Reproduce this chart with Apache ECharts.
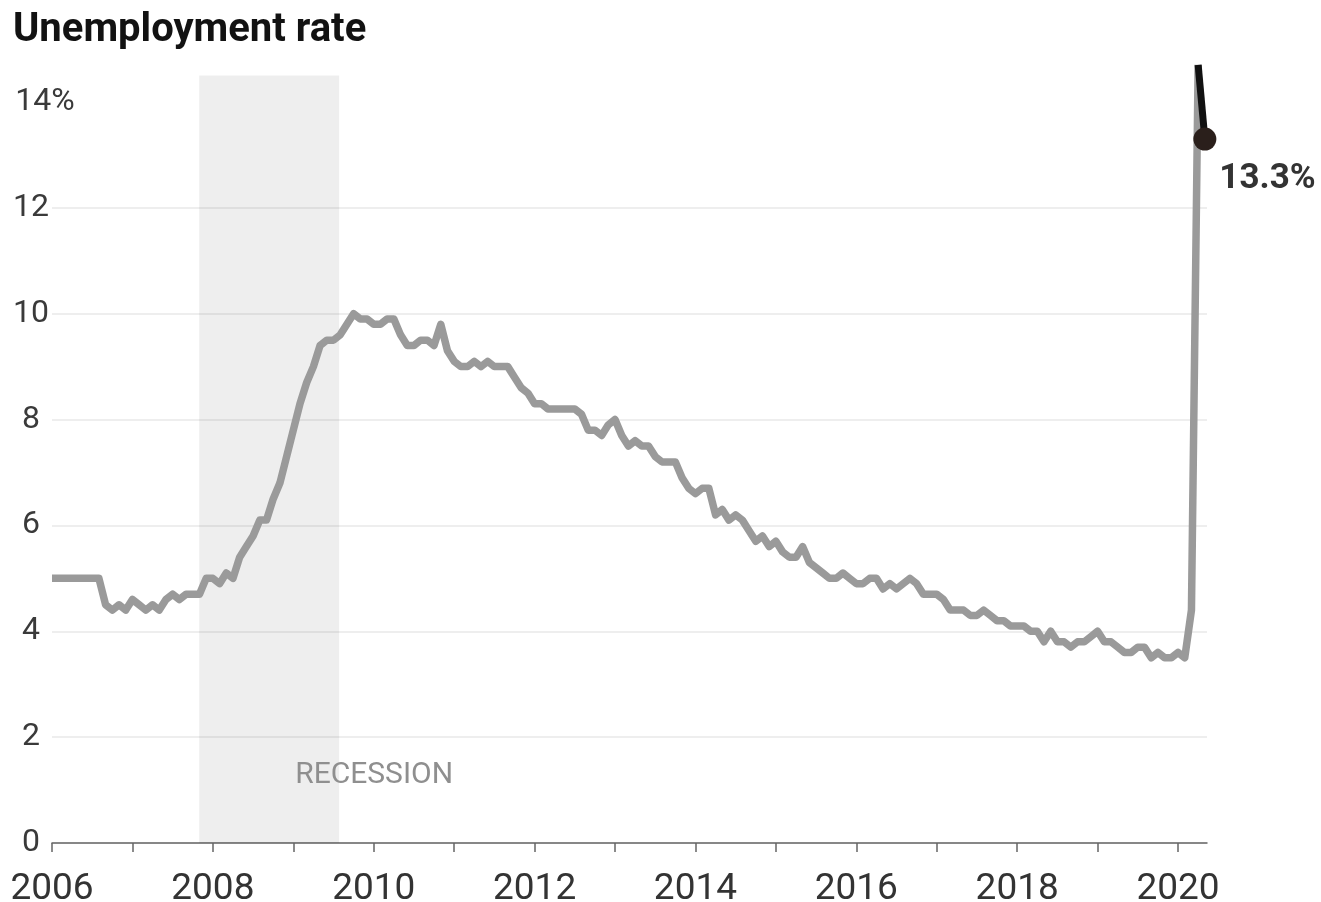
<!DOCTYPE html>
<html>
<head>
<meta charset="utf-8">
<script src="https://cdn.jsdelivr.net/npm/echarts@6/dist/echarts.min.js"></script>
<style>
  html, body { margin: 0; padding: 0; background: #fff; }
  #chart { width: 1321px; height: 902px; }
</style>
</head>
<body>
<div id="chart"></div>
<script>
// ---- Data (monthly unemployment rate, %) ----
const startYear = 2006;
const rates = [
  5.0,5.0,5.0,5.0,5.0,5.0,5.0,5.0,4.5,4.4,4.5,4.4,   // 2006
  4.6,4.5,4.4,4.5,4.4,4.6,4.7,4.6,4.7,4.7,4.7,5.0,   // 2007
  5.0,4.9,5.1,5.0,5.4,5.6,5.8,6.1,6.1,6.5,6.8,7.3,   // 2008
  7.8,8.3,8.7,9.0,9.4,9.5,9.5,9.6,9.8,10.0,9.9,9.9,  // 2009
  9.8,9.8,9.9,9.9,9.6,9.4,9.4,9.5,9.5,9.4,9.8,9.3,   // 2010
  9.1,9.0,9.0,9.1,9.0,9.1,9.0,9.0,9.0,8.8,8.6,8.5,   // 2011
  8.3,8.3,8.2,8.2,8.2,8.2,8.2,8.1,7.8,7.8,7.7,7.9,   // 2012
  8.0,7.7,7.5,7.6,7.5,7.5,7.3,7.2,7.2,7.2,6.9,6.7,   // 2013
  6.6,6.7,6.7,6.2,6.3,6.1,6.2,6.1,5.9,5.7,5.8,5.6,   // 2014
  5.7,5.5,5.4,5.4,5.6,5.3,5.2,5.1,5.0,5.0,5.1,5.0,   // 2015
  4.9,4.9,5.0,5.0,4.8,4.9,4.8,4.9,5.0,4.9,4.7,4.7,   // 2016
  4.7,4.6,4.4,4.4,4.4,4.3,4.3,4.4,4.3,4.2,4.2,4.1,   // 2017
  4.1,4.1,4.0,4.0,3.8,4.0,3.8,3.8,3.7,3.8,3.8,3.9,   // 2018
  4.0,3.8,3.8,3.7,3.6,3.6,3.7,3.7,3.5,3.6,3.5,3.5,   // 2019
  3.6,3.5,4.4,14.7                                   // 2020 Jan-Apr
];
const latestRate = 13.3;           // May 2020
const latestLabel = '13.3%';
const recession = [2007.83, 2009.57];
const recessionLabel = 'RECESSION';
const xTicks = [2006,2007,2008,2009,2010,2011,2012,2013,2014,2015,2016,2017,2018,2019,2020];
const xLabels = [2006,2008,2010,2012,2014,2016,2018,2020];
const yTicks = [0,2,4,6,8,10,12,14];
const titleText = 'Unemployment rate';

// ---- Build series data ----
const monthX = i => startYear + i / 12;
const grayData = rates.map((v, i) => [monthX(i), v]);
const lastIdx = rates.length - 1;
const blackData = [
  { value: [monthX(lastIdx), rates[lastIdx]], symbol: 'none' },
  { value: [monthX(lastIdx + 1), latestRate], symbol: 'circle', symbolSize: 23,
    itemStyle: { color: '#2a1f1b' },
    label: { show: true, formatter: latestLabel, position: 'right', distance: 3,
             offset: [0, 40], fontSize: 35, fontWeight: 'bold', color: '#333',
             fontFamily: 'Roboto' } }
];

const FONT = 'Roboto';
const chart = echarts.init(document.getElementById('chart'), null, { renderer: 'canvas' });
chart.setOption({
  animation: false,
  backgroundColor: '#fff',
  title: {
    text: titleText, left: 8, top: 6,
    textStyle: { fontFamily: FONT, fontSize: 40, fontWeight: 'bold', color: '#121212' }
  },
  grid: { left: 52, right: 114, top: 75.5, bottom: 59, containLabel: false, outerBoundsMode: 'none' },
  xAxis: {
    type: 'value', min: 2006, max: 2020.36,
    axisLine: { show: true, lineStyle: { color: '#666', width: 1.5 } },
    axisTick: { show: true, length: 9, lineStyle: { color: '#666', width: 1.5 }, customValues: xTicks },
    axisLabel: { customValues: xLabels, margin: 28, fontSize: 37, color: '#333', fontFamily: FONT,
                 formatter: v => String(v) },
    splitLine: { show: false }
  },
  yAxis: {
    type: 'value', min: 0, max: 14.5,
    axisLine: { show: false },
    axisTick: { show: false, customValues: yTicks },
    axisLabel: {
      customValues: yTicks, align: 'center', margin: 21, fontSize: 32, color: '#3a3a3a',
      fontFamily: FONT, verticalAlign: 'middle',
      backgroundColor: '#fff', padding: [0, 2, 0, 2],
      formatter: v => v === 14 ? '{sp|}14%' : String(v),
      rich: { sp: { width: 28 } }
    },
    splitLine: { show: true, showMaxLine: false, lineStyle: { color: '#e8e8e8', width: 1.5 } }
  },
  series: [
    {
      type: 'line', data: grayData, symbol: 'none', clip: false, z: 3,
      lineStyle: { color: '#9a9a9a', width: 7.5, join: 'round' },
      markArea: {
        silent: true,
        itemStyle: { color: 'rgba(0,0,0,0.065)' },
        label: { show: true, position: 'insideBottomLeft', distance: 0, offset: [96, -53],
                 fontSize: 30, color: '#8f8f8f', fontFamily: FONT },
        data: [[ { name: recessionLabel, xAxis: recession[0], yAxis: 0 },
                 { xAxis: recession[1], yAxis: 14.5 } ]]
      }
    },
    {
      type: 'line', data: blackData, clip: false, z: 5,
      lineStyle: { color: '#111', width: 7 },
      showSymbol: true
    }
  ]
});
</script>
</body>
</html>
